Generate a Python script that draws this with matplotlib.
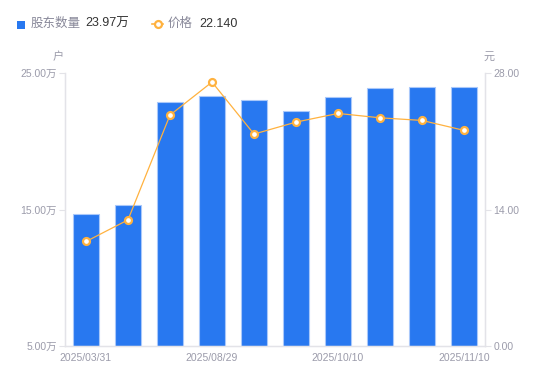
import matplotlib
matplotlib.use("Agg")
import matplotlib.pyplot as plt
from matplotlib.lines import Line2D
from matplotlib.patches import Rectangle

plt.rcParams['font.family'] = ['Liberation Sans', 'Noto Sans CJK SC', 'DejaVu Sans']

dates = ["2025/03/31", "", "", "2025/08/29", "", "", "2025/10/10", "", "", "2025/11/10"]
holders = [14.68, 15.33, 22.87, 23.31, 23.04, 22.23, 23.26, 23.94, 24.01, 23.97]  # 万户
price = [10.73, 12.95, 23.71, 27.10, 21.76, 22.99, 23.88, 23.43, 23.16, 22.14]
left_ticks = [5, 15, 25]
right_ticks = [0, 14, 28]

BLUE = '#2878F0'
ORANGE = '#FFB23F'
GRAY = '#9B9BAA'
AXC = '#E3E3E8'

fig = plt.figure(figsize=(5.5, 3.81), dpi=100)
ax = fig.add_axes([65/550, 1-346/381, 420/550, (346-73.3)/381])
ax2 = ax.twinx()

x = list(range(len(holders)))
ax.bar(x, [h - 5 for h in holders], bottom=5, width=0.6, color=BLUE,
       edgecolor='#A9C8FA', linewidth=0.8, zorder=2)
ax.set_xlim(-0.5, len(holders) - 0.5)
ax.set_ylim(5, 25)
ax.set_yticks(left_ticks)
ax.set_yticklabels([f"{v:.2f}万" for v in left_ticks])
ax.set_xticks(x)
ax.set_xticklabels(dates)
ax.tick_params(axis='x', length=0, labelsize=7.5, colors=GRAY, pad=5)
ax.tick_params(axis='y', length=4, width=0.8, color=AXC, labelsize=7.5, labelcolor=GRAY, pad=2)

ax2.plot(x, price, color=ORANGE, linewidth=0.9, marker='o', markersize=5,
         markerfacecolor='white', markeredgecolor=ORANGE, markeredgewidth=1.6, zorder=3)
ax2.set_ylim(0, 28)
ax2.set_yticks(right_ticks)
ax2.set_yticklabels([f"{v:.2f}" for v in right_ticks])
ax2.tick_params(axis='y', length=4, width=0.8, color=AXC, labelsize=7.5, labelcolor=GRAY, pad=2)

for a in (ax, ax2):
    a.spines['top'].set_visible(False)
    for s in ('left', 'right', 'bottom'):
        a.spines[s].set_color(AXC)
        a.spines[s].set_linewidth(0.9)

fig.text(58/550, 1-57/381, "户", fontsize=8, color=GRAY, ha='center', va='center')
fig.text(489/550, 1-57/381, "元", fontsize=8, color=GRAY, ha='center', va='center')

# legend
fig.patches.append(Rectangle((17/550, 1-29/381), 8/550, 8/381, transform=fig.transFigure,
                             facecolor=BLUE, edgecolor='none'))
fig.text(31/550, 1-24/381, "股东数量", fontsize=9, color='#888899', va='center', ha='left')
fig.text(85/550, 1-24/381, f"{holders[-1]:.2f}万", fontsize=9, color='#333333', va='center', ha='left')
fig.lines.append(Line2D([152/550, 163/550], [1-24/381, 1-24/381], transform=fig.transFigure,
                        color=ORANGE, linewidth=1.2))
fig.lines.append(Line2D([157.5/550], [1-24/381], transform=fig.transFigure,
                        color=ORANGE, marker='o', markersize=5, markerfacecolor='white',
                        markeredgecolor=ORANGE, markeredgewidth=1.6, linestyle='none'))
fig.text(168/550, 1-24/381, "价格", fontsize=9, color='#888899', va='center', ha='left')
fig.text(199/550, 1-24/381, f"{price[-1]:.3f}", fontsize=9, color='#333333', va='center', ha='left')

fig.savefig("out.png", dpi=100)
